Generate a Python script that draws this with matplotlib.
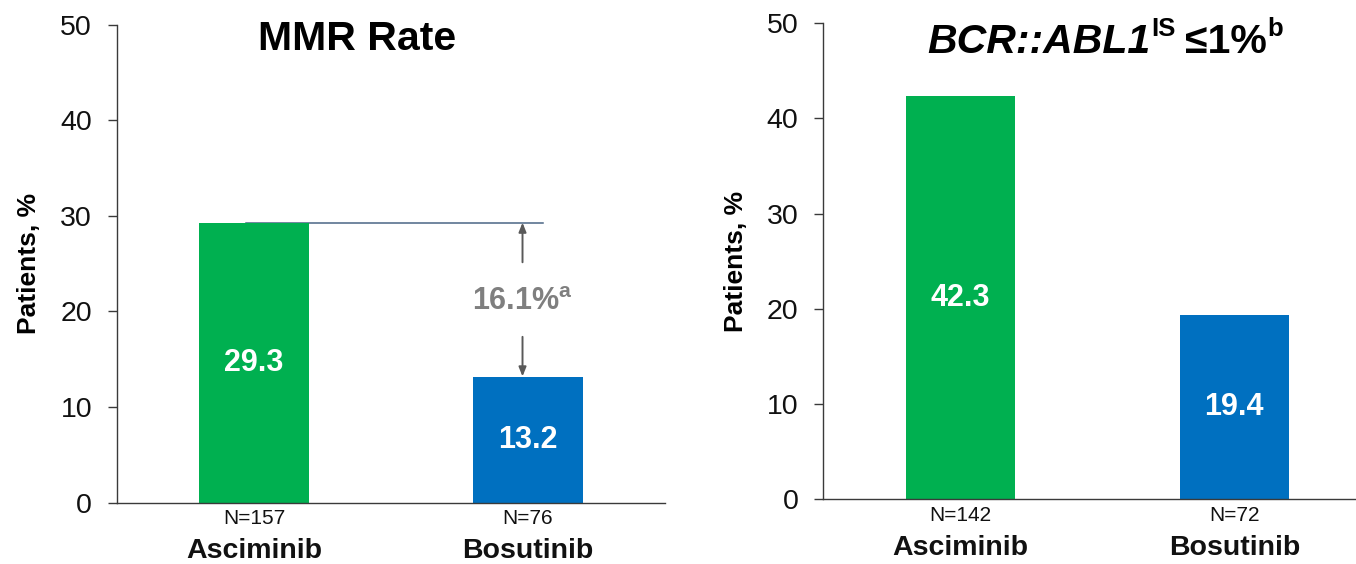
import matplotlib
matplotlib.use("Agg")
import matplotlib.pyplot as plt

plt.rcParams["font.family"] = ["Liberation Sans", "DejaVu Sans"]
plt.rcParams["mathtext.fontset"] = "custom"
plt.rcParams["mathtext.rm"] = "Liberation Sans"
plt.rcParams["mathtext.bf"] = "Liberation Sans:bold"
plt.rcParams["mathtext.it"] = "Liberation Sans:italic"

# Data
drugs = ["Asciminib", "Bosutinib"]
mmr_rate = [29.3, 13.2]
mmr_n = [157, 76]
bcr_rate = [42.3, 19.4]
bcr_n = [142, 72]
mmr_difference = 16.1
y_ticks = [0, 10, 20, 30, 40, 50]

GREEN = "#00B050"
BLUE = "#0070C0"
colors = [GREEN, BLUE]
SPINE = "#3a3a3a"

W, H = 1356, 564
fig = plt.figure(figsize=(W / 100, H / 100), dpi=100)
ax_left = fig.add_axes([0.0863, 0.1087, 0.4041, 0.8475])
ax_right = fig.add_axes([0.6072, 0.1147, 0.4041, 0.8445])

pos = list(range(len(drugs)))


def style_axes(ax):
    ax.set_xlim(-0.5, 1.5)
    ax.set_ylim(0, 50)
    ax.set_yticks(y_ticks)
    for s in ("top", "right"):
        ax.spines[s].set_visible(False)
    for s in ("left", "bottom"):
        ax.spines[s].set_color(SPINE)
        ax.spines[s].set_linewidth(1.0)
    ax.tick_params(axis="y", direction="out", length=6.5, width=1.0,
                   color=SPINE, pad=11.5, labelsize=20.5, labelcolor="#111111")
    ax.tick_params(axis="x", length=0, labelbottom=False)
    ax.set_ylabel("Patients, %", fontsize=19, fontweight="bold")
    ax.yaxis.set_label_coords(-0.138, 0.5)


def draw_bars(ax, values, counts):
    bars = ax.bar(pos, values, width=0.40, color=colors, zorder=2)
    for b, v in zip(bars, values):
        ax.text(b.get_x() + b.get_width() / 2, v / 2, f"{v:.1f}",
                ha="center", va="center", color="white",
                fontsize=22, fontweight="bold", zorder=3)
    for p, name, n in zip(pos, drugs, counts):
        ax.annotate(f"N={n}", xy=(p, 0), xycoords=("data", "axes fraction"),
                    xytext=(0, -11.5), textcoords="offset points",
                    ha="center", va="center", fontsize=15, color="#111111")
        ax.annotate(name, xy=(p, 0), xycoords=("data", "axes fraction"),
                    xytext=(0, -35), textcoords="offset points",
                    ha="center", va="center", fontsize=20.5,
                    fontweight="bold", color="#111111")


# Left panel: MMR rate
style_axes(ax_left)
draw_bars(ax_left, mmr_rate, mmr_n)
ax_left.plot([pos[0] - 0.03, pos[1] + 0.055], [mmr_rate[0], mmr_rate[0]],
             color="#4a6685", lw=1.1, zorder=1)
mid = (mmr_rate[0] + mmr_rate[1]) / 2
arrow_x = pos[1] - 0.02
arrow_kw = dict(arrowstyle="-|>,head_length=0.55,head_width=0.22",
                color="#595959", lw=1.4, shrinkA=0, shrinkB=0)
ax_left.annotate("", xy=(arrow_x, mmr_rate[0]), xytext=(arrow_x, mid + 3.9),
                 arrowprops=arrow_kw)
ax_left.annotate("", xy=(arrow_x, mmr_rate[1]), xytext=(arrow_x, mid - 3.9),
                 arrowprops=arrow_kw)
ax_left.text(arrow_x, mid - 0.3,
             r"$\mathbf{" + f"{mmr_difference:.1f}" + r"\%^{a}}$",
             ha="center", va="center", fontsize=22, color="#7f7f7f")
fig.text(357 / W, 1 - 39 / H, "MMR Rate", ha="center", va="center",
         fontsize=29.5, fontweight="bold")

# Right panel: BCR::ABL1 (IS) <= 1%
style_axes(ax_right)
draw_bars(ax_right, bcr_rate, bcr_n)

# Title assembled from runs of text: (string, size, style, raise in px, gap after in px)
title_runs = [
    ("BCR::ABL1", 29.5, "italic", 0, 1),
    ("IS", 18.5, "normal", 17, 9),
    ("\u22641%", 29.5, "normal", 0, 1),
    ("b", 18.5, "normal", 17, 0),
]
baseline_y = H - 53
renderer = fig.canvas.get_renderer()
run_texts = []
for s, size, style, lift, gap in title_runs:
    t = fig.text(0, (baseline_y + lift) / H, s, fontsize=size, style=style,
                 fontweight="bold", ha="left", va="baseline")
    run_texts.append((t, gap))
widths = [t.get_window_extent(renderer).width for t, _ in run_texts]
total = sum(widths) + sum(g for _, g in run_texts)
x = 1105 - total / 2
for (t, gap), w in zip(run_texts, widths):
    t.set_x(x / W)
    x += w + gap

fig.savefig("out.png", dpi=100)
